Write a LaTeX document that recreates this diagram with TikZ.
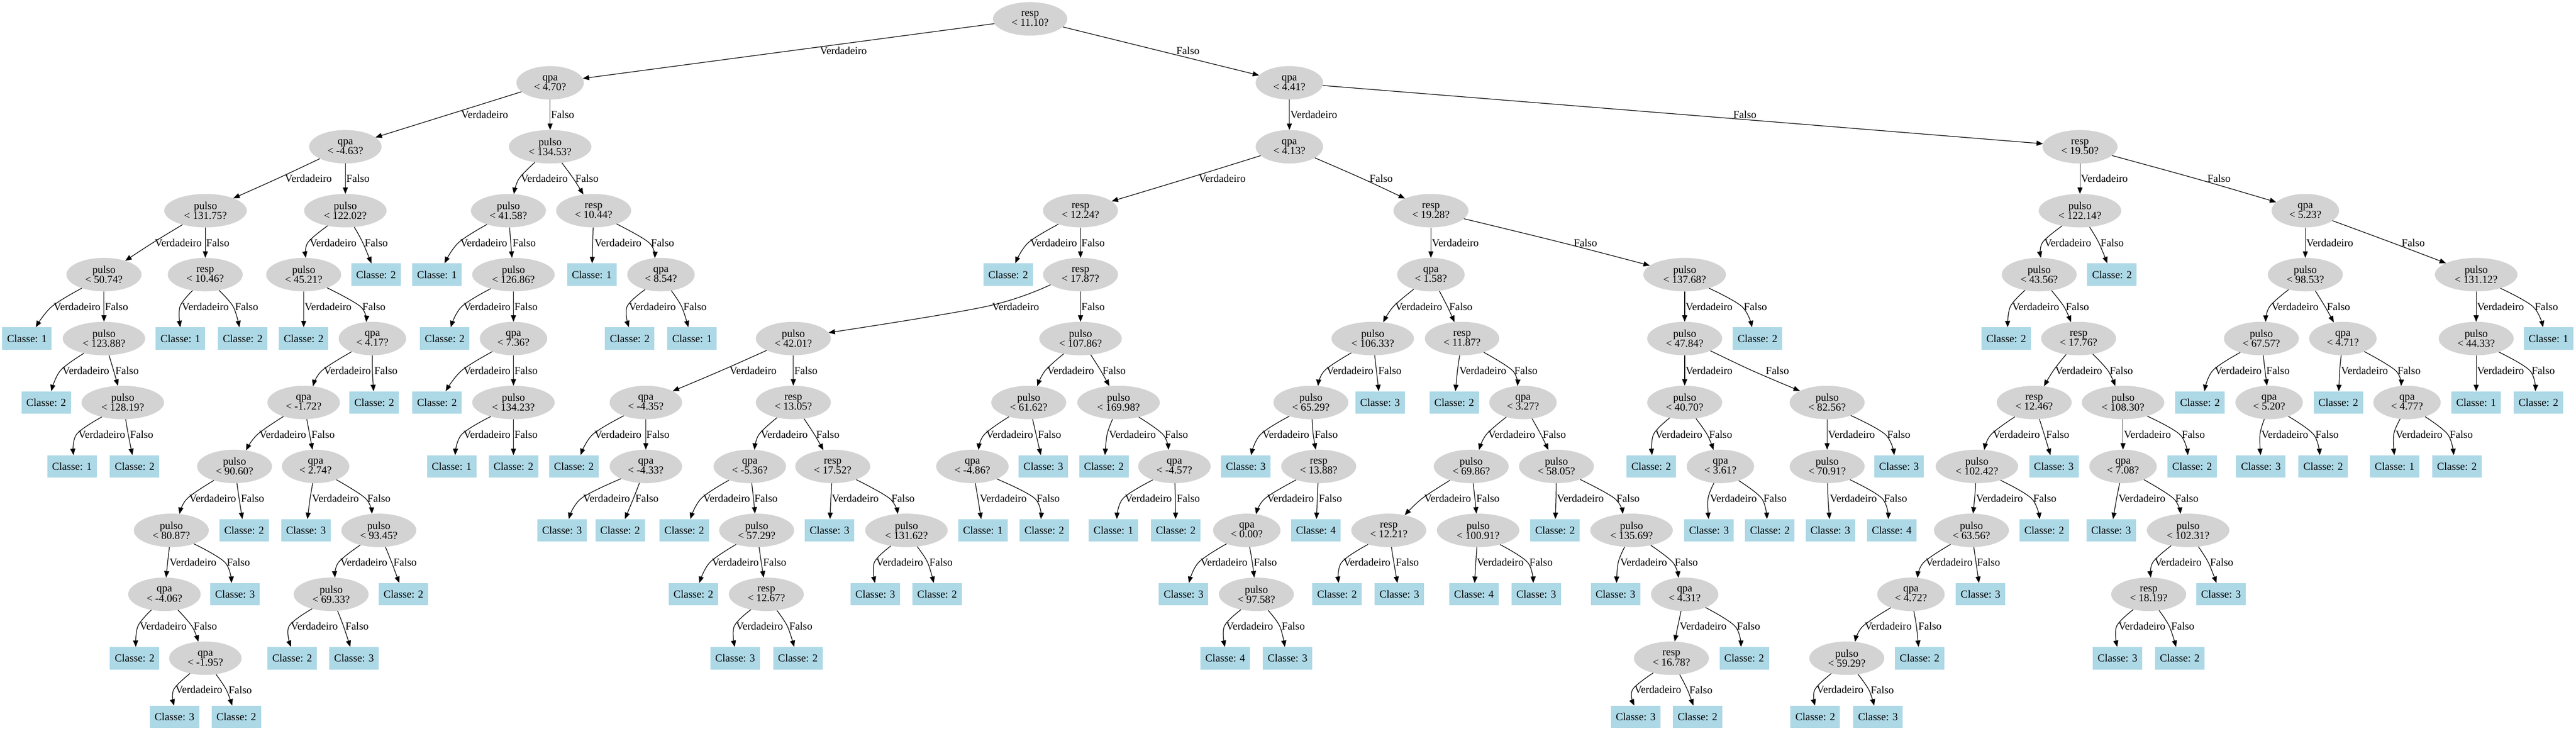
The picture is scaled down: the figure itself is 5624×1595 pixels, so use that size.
\documentclass[tikz,border=0pt]{standalone}
\usepackage{fontspec}
\setmainfont{Liberation Serif}
\usetikzlibrary{shapes.geometric,arrows.meta}
\definecolor{decgray}{HTML}{D3D3D3}
\definecolor{leafblue}{HTML}{ADD8E6}
\newcommand\dnode[4]{\node[dec] (#1) at (#2,{41.2+139.6*#3}) {#4};}
\newcommand\lnode[4]{\node[leaf] (#1) at (#2,{ifthenelse(#3==11,1565.3,41.2+139.6*#3)}) {Classe: #4};}
\newcommand\tedge[6]{%
  \pgfmathsetmacro\tey{ifthenelse(#6==10,1506,111+139.6*#6)}%
  \coordinate (P-#2) at (#5,\tey);%
  \pgfcoordinate{S-#2}{\pgfpointshapeborder{#1}{\pgfpointanchor{P-#2}{center}}}%
  \pgfcoordinate{E-#2}{\pgfpointshapeborder{#2}{\pgfpointanchor{P-#2}{center}}}%
  \draw[conn] plot[smooth,tension=0.6] coordinates {(S-#2) (P-#2) (E-#2)};%
  \node[elab] (L-#2) at (#4,\tey) {#3};%
}
\begin{document}
\begin{tikzpicture}[x=1pt,y=-1pt,
  dec/.style={ellipse, fill=decgray, inner xsep=17pt, inner ysep=0pt, minimum height=73pt, align=center, font=\fontsize{23.3}{18.3}\selectfont},
  leaf/.style={rectangle, fill=leafblue, minimum width=108pt, minimum height=49pt, inner sep=0pt, font=\fontsize{23.3}{18.3}\selectfont},
  conn/.style={draw=black, line width=1.4pt, -{Triangle[length=14pt,width=11pt]}},
  elab/.style={anchor=west, inner sep=0pt, font=\fontsize{23.3}{18.3}\selectfont}]
\fill[white] (0,0) rectangle (5624,1595);
\useasboundingbox (0,0) rectangle (5624,1595);
% ---- left subtree
\dnode{a0}{2249}{0}{resp\\< 11.10?}
\dnode{a1}{1201}{1}{qpa\\< 4.70?}
\dnode{a2}{754}{2}{qpa\\< -4.63?}
\dnode{a3}{448.7}{3}{pulso\\< 131.75?}
\dnode{a4}{227}{4}{pulso\\< 50.74?}
\lnode{a5}{59}{5}{1}
\dnode{a6}{227}{5}{pulso\\< 123.88?}
\lnode{a7}{101}{6}{2}
\dnode{a8}{268}{6}{pulso\\< 128.19?}
\lnode{a9}{157}{7}{1}
\lnode{a10}{294}{7}{2}
\dnode{a11}{448}{4}{resp\\< 10.46?}
\lnode{a12}{394}{5}{1}
\lnode{a13}{530}{5}{2}
\dnode{a14}{754}{3}{pulso\\< 122.02?}
\dnode{a15}{663}{4}{pulso\\< 45.21?}
\lnode{a16}{663}{5}{2}
\dnode{a17}{813}{5}{qpa\\< 4.17?}
\dnode{a18}{663}{6}{qpa\\< -1.72?}
\dnode{a19}{512}{7}{pulso\\< 90.60?}
\dnode{a20}{374}{8}{pulso\\< 80.87?}
\dnode{a21}{359}{9}{qpa\\< -4.06?}
\lnode{a22}{294}{10}{2}
\dnode{a23}{448.3}{10}{qpa\\< -1.95?}
\lnode{a24}{381}{11}{3}
\lnode{a25}{516}{11}{2}
\lnode{a26}{513}{9}{3}
\lnode{a27}{533}{8}{2}
\dnode{a28}{689}{7}{qpa\\< 2.74?}
\lnode{a29}{668}{8}{3}
\dnode{a30}{827}{8}{pulso\\< 93.45?}
\dnode{a31}{723}{9}{pulso\\< 69.33?}
\lnode{a32}{638}{10}{2}
\lnode{a33}{773}{10}{3}
\lnode{a34}{881}{9}{2}
\lnode{a35}{817}{6}{2}
\lnode{a36}{821}{4}{2}
\dnode{a37}{1201}{2}{pulso\\< 134.53?}
\dnode{a38}{1110}{3}{pulso\\< 41.58?}
\lnode{a39}{954}{4}{1}
\dnode{a40}{1121}{4}{pulso\\< 126.86?}
\lnode{a41}{971}{5}{2}
\dnode{a42}{1121}{5}{qpa\\< 7.36?}
\lnode{a43}{954}{6}{2}
\dnode{a44}{1121}{6}{pulso\\< 134.23?}
\lnode{a45}{986}{7}{1}
\lnode{a46}{1121}{7}{2}
\dnode{a47}{1296}{3}{resp\\< 10.44?}
\lnode{a48}{1292}{4}{1}
\dnode{a49}{1443}{4}{qpa\\< 8.54?}
\lnode{a50}{1375}{5}{2}
\lnode{a51}{1511}{5}{1}
% ---- b
\dnode{b0}{2815}{1}{qpa\\< 4.41?}
\dnode{b1}{2815}{2}{qpa\\< 4.13?}
\dnode{b2}{2359}{3}{resp\\< 12.24?}
\lnode{b3}{2201}{4}{2}
\dnode{b4}{2359}{4}{resp\\< 17.87?}
\dnode{b5}{1732}{5}{pulso\\< 42.01?}
\dnode{b6}{1410}{6}{qpa\\< -4.35?}
\lnode{b7}{1253}{7}{2}
\dnode{b8}{1410}{7}{qpa\\< -4.33?}
\lnode{b9}{1227}{8}{3}
\lnode{b10}{1354}{8}{2}
\dnode{b11}{1732}{6}{resp\\< 13.05?}
\dnode{b12}{1637}{7}{qpa\\< -5.36?}
\lnode{b13}{1494}{8}{2}
\dnode{b14}{1652}{8}{pulso\\< 57.29?}
\lnode{b15}{1514}{9}{2}
\dnode{b16}{1673}{9}{resp\\< 12.67?}
\lnode{b17}{1605}{10}{3}
\lnode{b18}{1742}{10}{2}
\dnode{b19}{1818}{7}{resp\\< 17.52?}
\lnode{b20}{1811}{8}{3}
\dnode{b21}{1979}{8}{pulso\\< 131.62?}
\lnode{b22}{1911}{9}{3}
\lnode{b23}{2046}{9}{2}
\dnode{b24}{2359}{5}{pulso\\< 107.86?}
\dnode{b25}{2246}{6}{pulso\\< 61.62?}
\dnode{b26}{2123}{7}{qpa\\< -4.86?}
\lnode{b27}{2146}{8}{1}
\lnode{b28}{2280}{8}{2}
\lnode{b29}{2278}{7}{3}
\dnode{b30}{2442}{6}{pulso\\< 169.98?}
\lnode{b31}{2410}{7}{2}
\dnode{b32}{2564}{7}{qpa\\< -4.57?}
\lnode{b33}{2431}{8}{1}
\lnode{b34}{2567}{8}{2}
% ---- c
\dnode{c0}{3124}{3}{resp\\< 19.28?}
\dnode{c1}{3124}{4}{qpa\\< 1.58?}
\dnode{c2}{2997}{5}{pulso\\< 106.33?}
\dnode{c3}{2862}{6}{pulso\\< 65.29?}
\lnode{c4}{2720}{7}{3}
\dnode{c5}{2879}{7}{resp\\< 13.88?}
\dnode{c6}{2722}{8}{qpa\\< 0.00?}
\lnode{c7}{2584}{9}{3}
\dnode{c8}{2743}{9}{pulso\\< 97.58?}
\lnode{c9}{2675}{10}{4}
\lnode{c10}{2811}{10}{3}
\lnode{c11}{2873}{8}{4}
\lnode{c12}{3013}{6}{3}
\dnode{c13}{3192}{5}{resp\\< 11.87?}
\lnode{c14}{3175}{6}{2}
\dnode{c15}{3325}{6}{qpa\\< 3.27?}
\dnode{c16}{3212}{7}{pulso\\< 69.86?}
\dnode{c17}{3032}{8}{resp\\< 12.21?}
\lnode{c18}{2919}{9}{2}
\lnode{c19}{3055}{9}{3}
\dnode{c20}{3227}{8}{pulso\\< 100.91?}
\lnode{c21}{3218}{9}{4}
\lnode{c22}{3354}{9}{3}
\dnode{c23}{3398}{7}{pulso\\< 58.05?}
\lnode{c24}{3395}{8}{2}
\dnode{c25}{3562}{8}{pulso\\< 135.69?}
\lnode{c26}{3527}{9}{3}
\dnode{c27}{3678}{9}{qpa\\< 4.31?}
\dnode{c28}{3649}{10}{resp\\< 16.78?}
\lnode{c29}{3571}{11}{3}
\lnode{c30}{3706}{11}{2}
\lnode{c31}{3808}{10}{2}
\dnode{c32}{3678}{4}{pulso\\< 137.68?}
\dnode{c33}{3678}{5}{pulso\\< 47.84?}
\dnode{c34}{3678}{6}{pulso\\< 40.70?}
\lnode{c35}{3605}{7}{2}
\dnode{c36}{3756}{7}{qpa\\< 3.61?}
\lnode{c37}{3731}{8}{3}
\lnode{c38}{3864}{8}{2}
\dnode{c39}{3989}{6}{pulso\\< 82.56?}
\dnode{c40}{3989}{7}{pulso\\< 70.91?}
\lnode{c41}{3996}{8}{3}
\lnode{c42}{4130}{8}{4}
\lnode{c43}{4146}{7}{3}
\lnode{c44}{3837}{5}{2}
% ---- d
\dnode{d0}{4541}{2}{resp\\< 19.50?}
\dnode{d1}{4541}{3}{pulso\\< 122.14?}
\dnode{d2}{4452}{4}{pulso\\< 43.56?}
\lnode{d3}{4380}{5}{2}
\dnode{d4}{4538}{5}{resp\\< 17.76?}
\dnode{d5}{4441}{6}{resp\\< 12.46?}
\dnode{d6}{4316}{7}{pulso\\< 102.42?}
\dnode{d7}{4304}{8}{pulso\\< 63.56?}
\dnode{d8}{4172}{9}{qpa\\< 4.72?}
\dnode{d9}{4032}{10}{pulso\\< 59.29?}
\lnode{d10}{3963}{11}{2}
\lnode{d11}{4100}{11}{3}
\lnode{d12}{4191}{10}{2}
\lnode{d13}{4324}{9}{3}
\lnode{d14}{4463}{8}{2}
\lnode{d15}{4484}{7}{3}
\dnode{d16}{4635}{6}{pulso\\< 108.30?}
\dnode{d17}{4635}{7}{qpa\\< 7.08?}
\lnode{d18}{4609}{8}{3}
\dnode{d19}{4777}{8}{pulso\\< 102.31?}
\dnode{d20}{4691}{9}{resp\\< 18.19?}
\lnode{d21}{4623}{10}{3}
\lnode{d22}{4759}{10}{2}
\lnode{d23}{4849}{9}{3}
\lnode{d24}{4786}{7}{2}
\lnode{d25}{4611}{4}{2}
\dnode{d26}{5033}{3}{qpa\\< 5.23?}
\dnode{d27}{5033}{4}{pulso\\< 98.53?}
\dnode{d28}{4937}{5}{pulso\\< 67.57?}
\lnode{d29}{4803}{6}{2}
\dnode{d30}{4954}{6}{qpa\\< 5.20?}
\lnode{d31}{4936}{7}{3}
\lnode{d32}{5072}{7}{2}
\dnode{d33}{5115}{5}{qpa\\< 4.71?}
\lnode{d34}{5105}{6}{2}
\dnode{d35}{5255}{6}{qpa\\< 4.77?}
\lnode{d36}{5228}{7}{1}
\lnode{d37}{5364}{7}{2}
\dnode{d38}{5406}{4}{pulso\\< 131.12?}
\dnode{d39}{5406}{5}{pulso\\< 44.33?}
\lnode{d40}{5406}{6}{1}
\lnode{d41}{5542}{6}{2}
\lnode{d42}{5564}{5}{1}
% ---- edges
\tedge{a0}{a1}{Verdadeiro}{1790}{1725}{0}
\tedge{a0}{b0}{Falso}{2568}{2532}{0}
\tedge{a1}{a2}{Verdadeiro}{1007}{978}{1}
\tedge{a1}{a37}{Falso}{1203}{1201}{1}
\tedge{a2}{a3}{Verdadeiro}{622}{605}{2}
\tedge{a2}{a14}{Falso}{756}{754}{2}
\tedge{a37}{a38}{Verdadeiro}{1137}{1133}{2}
\tedge{a37}{a47}{Falso}{1256}{1252}{2}
\tedge{a3}{a4}{Verdadeiro}{338}{334}{3}
\tedge{a3}{a11}{Falso}{450}{448.5}{3}
\tedge{a14}{a15}{Verdadeiro}{676}{672}{3}
\tedge{a14}{a36}{Falso}{796}{792}{3}
\tedge{a38}{a39}{Verdadeiro}{1005}{1001}{3}
\tedge{a38}{a40}{Falso}{1119}{1115}{3}
\tedge{a47}{a48}{Verdadeiro}{1298}{1294}{3}
\tedge{a47}{a49}{Falso}{1421}{1417}{3}
\tedge{a4}{a5}{Verdadeiro}{117}{113}{4}
\tedge{a4}{a6}{Falso}{229}{227}{4}
\tedge{a11}{a12}{Verdadeiro}{397}{393}{4}
\tedge{a11}{a13}{Falso}{513}{509}{4}
\tedge{a15}{a16}{Verdadeiro}{665}{663}{4}
\tedge{a15}{a17}{Falso}{791}{787}{4}
\tedge{a40}{a41}{Verdadeiro}{1012}{1008}{4}
\tedge{a40}{a42}{Falso}{1123}{1121}{4}
\tedge{a49}{a50}{Verdadeiro}{1373}{1369}{4}
\tedge{a49}{a51}{Falso}{1492}{1488}{4}
\tedge{a6}{a7}{Verdadeiro}{136}{132}{5}
\tedge{a6}{a8}{Falso}{252}{248}{5}
\tedge{a17}{a18}{Verdadeiro}{707}{703}{5}
\tedge{a17}{a35}{Falso}{817}{813}{5}
\tedge{a42}{a43}{Verdadeiro}{1012}{1008}{5}
\tedge{a42}{a44}{Falso}{1123}{1121}{5}
\tedge{a8}{a9}{Verdadeiro}{171}{167}{6}
\tedge{a8}{a10}{Falso}{284}{280}{6}
\tedge{a18}{a19}{Verdadeiro}{566}{562}{6}
\tedge{a18}{a28}{Falso}{680}{676}{6}
\tedge{a44}{a45}{Verdadeiro}{1012}{1008}{6}
\tedge{a44}{a46}{Falso}{1123}{1121}{6}
\tedge{a19}{a20}{Verdadeiro}{413}{409}{7}
\tedge{a19}{a27}{Falso}{526}{522}{7}
\tedge{a28}{a29}{Verdadeiro}{681}{677}{7}
\tedge{a28}{a30}{Falso}{802}{798}{7}
\tedge{a20}{a21}{Verdadeiro}{370}{366}{8}
\tedge{a20}{a26}{Falso}{495}{491}{8}
\tedge{a30}{a31}{Verdadeiro}{743}{739}{8}
\tedge{a30}{a34}{Falso}{859}{855}{8}
\tedge{a21}{a22}{Verdadeiro}{305}{301}{9}
\tedge{a21}{a23}{Falso}{423}{419}{9}
\tedge{a31}{a32}{Verdadeiro}{635}{631}{9}
\tedge{a31}{a33}{Falso}{754}{750}{9}
\tedge{a23}{a24}{Verdadeiro}{383}{379}{10}
\tedge{a23}{a25}{Falso}{499}{494}{10}
\tedge{b0}{b1}{Verdadeiro}{2817}{2815}{1}
\tedge{b0}{d0}{Falso}{3784}{3680}{1}
\tedge{b1}{b2}{Verdadeiro}{2617}{2590}{2}
\tedge{b1}{c0}{Falso}{2990}{2975}{2}
\tedge{b2}{b3}{Verdadeiro}{2249}{2245}{3}
\tedge{b2}{b4}{Falso}{2361}{2359}{3}
\tedge{b4}{b5}{Verdadeiro}{2166}{2152}{4}
\tedge{b4}{b24}{Falso}{2361}{2359}{4}
\tedge{b5}{b6}{Verdadeiro}{1593}{1575}{5}
\tedge{b5}{b11}{Falso}{1734}{1732}{5}
\tedge{b24}{b25}{Verdadeiro}{2286}{2282}{5}
\tedge{b24}{b30}{Falso}{2407}{2403}{5}
\tedge{b6}{b7}{Verdadeiro}{1298}{1294}{6}
\tedge{b6}{b8}{Falso}{1411}{1410}{6}
\tedge{b11}{b12}{Verdadeiro}{1661}{1657}{6}
\tedge{b11}{b19}{Falso}{1782}{1778}{6}
\tedge{b25}{b26}{Verdadeiro}{2153}{2149}{6}
\tedge{b25}{b29}{Falso}{2266}{2262}{6}
\tedge{b30}{b31}{Verdadeiro}{2421}{2417}{6}
\tedge{b30}{b32}{Falso}{2543}{2539}{6}
\tedge{b8}{b9}{Verdadeiro}{1273}{1269}{7}
\tedge{b8}{b10}{Falso}{1387}{1383}{7}
\tedge{b12}{b13}{Verdadeiro}{1535}{1531}{7}
\tedge{b12}{b14}{Falso}{1647}{1645}{7}
\tedge{b19}{b20}{Verdadeiro}{1816}{1814}{7}
\tedge{b19}{b21}{Falso}{1946}{1942}{7}
\tedge{b26}{b27}{Verdadeiro}{2139}{2135}{7}
\tedge{b26}{b28}{Falso}{2263}{2259}{7}
\tedge{b32}{b33}{Verdadeiro}{2456}{2452}{7}
\tedge{b32}{b34}{Falso}{2569}{2566}{7}
\tedge{b14}{b15}{Verdadeiro}{1554}{1550}{8}
\tedge{b14}{b16}{Falso}{1666}{1662}{8}
\tedge{b21}{b22}{Verdadeiro}{1913}{1909}{8}
\tedge{b21}{b23}{Falso}{2029}{2025}{8}
\tedge{b16}{b17}{Verdadeiro}{1607}{1603}{9}
\tedge{b16}{b18}{Falso}{1723}{1719}{9}
\tedge{c0}{c1}{Verdadeiro}{3126}{3124}{3}
\tedge{c0}{c32}{Falso}{3436}{3410}{3}
\tedge{c1}{c2}{Verdadeiro}{3046}{3042}{4}
\tedge{c1}{c13}{Falso}{3164}{3160}{4}
\tedge{c32}{c33}{Verdadeiro}{3680}{3678}{4}
\tedge{c32}{c44}{Falso}{3807}{3803}{4}
\tedge{c2}{c3}{Verdadeiro}{2896}{2892}{5}
\tedge{c2}{c12}{Falso}{3009}{3005}{5}
\tedge{c13}{c14}{Verdadeiro}{3186}{3182}{5}
\tedge{c13}{c15}{Falso}{3306}{3302}{5}
\tedge{c33}{c34}{Verdadeiro}{3680}{3678}{5}
\tedge{c33}{c39}{Falso}{3855}{3825}{5}
\tedge{c3}{c4}{Verdadeiro}{2756}{2752}{6}
\tedge{c3}{c5}{Falso}{2870}{2867}{6}
\tedge{c15}{c16}{Verdadeiro}{3249}{3245}{6}
\tedge{c15}{c23}{Falso}{3368}{3364}{6}
\tedge{c34}{c35}{Verdadeiro}{3614}{3610}{6}
\tedge{c34}{c36}{Falso}{3731}{3727}{6}
\tedge{c39}{c40}{Verdadeiro}{3991}{3989}{6}
\tedge{c39}{c43}{Falso}{4120}{4116}{6}
\tedge{c5}{c6}{Verdadeiro}{2766}{2762}{7}
\tedge{c5}{c11}{Falso}{2879}{2876}{7}
\tedge{c16}{c17}{Verdadeiro}{3109}{3105}{7}
\tedge{c16}{c20}{Falso}{3223}{3220}{7}
\tedge{c23}{c24}{Verdadeiro}{3399}{3397}{7}
\tedge{c23}{c25}{Falso}{3529}{3525}{7}
\tedge{c36}{c37}{Verdadeiro}{3733}{3729}{7}
\tedge{c36}{c38}{Falso}{3850}{3846}{7}
\tedge{c40}{c41}{Verdadeiro}{3995}{3991}{7}
\tedge{c40}{c42}{Falso}{4113}{4109}{7}
\tedge{c6}{c7}{Verdadeiro}{2621}{2617}{8}
\tedge{c6}{c8}{Falso}{2737}{2734}{8}
\tedge{c17}{c18}{Verdadeiro}{2933}{2929}{8}
\tedge{c17}{c19}{Falso}{3047}{3043}{8}
\tedge{c20}{c21}{Verdadeiro}{3224}{3222}{8}
\tedge{c20}{c22}{Falso}{3339}{3335}{8}
\tedge{c25}{c26}{Verdadeiro}{3537}{3533}{8}
\tedge{c25}{c27}{Falso}{3656}{3652}{8}
\tedge{c8}{c9}{Verdadeiro}{2677}{2673}{9}
\tedge{c8}{c10}{Falso}{2798}{2794}{9}
\tedge{c27}{c28}{Verdadeiro}{3667}{3663}{9}
\tedge{c27}{c31}{Falso}{3792}{3788}{9}
\tedge{c28}{c29}{Verdadeiro}{3568}{3564}{10}
\tedge{c28}{c30}{Falso}{3688}{3684}{10}
\tedge{d0}{d1}{Verdadeiro}{4543}{4541}{2}
\tedge{d0}{d26}{Falso}{4819}{4795}{2}
\tedge{d1}{d2}{Verdadeiro}{4463}{4459}{3}
\tedge{d1}{d25}{Falso}{4586}{4582}{3}
\tedge{d26}{d27}{Verdadeiro}{5035}{5033}{3}
\tedge{d26}{d38}{Falso}{5243}{5222}{3}
\tedge{d2}{d3}{Verdadeiro}{4393}{4389}{4}
\tedge{d2}{d4}{Falso}{4510}{4506}{4}
\tedge{d27}{d28}{Verdadeiro}{4959}{4955}{4}
\tedge{d27}{d33}{Falso}{5080}{5076}{4}
\tedge{d38}{d39}{Verdadeiro}{5408}{5406}{4}
\tedge{d38}{d42}{Falso}{5534}{5530}{4}
\tedge{d4}{d5}{Verdadeiro}{4487}{4483}{5}
\tedge{d4}{d16}{Falso}{4606}{4602}{5}
\tedge{d28}{d29}{Verdadeiro}{4835}{4831}{5}
\tedge{d28}{d30}{Falso}{4948}{4945}{5}
\tedge{d33}{d34}{Verdadeiro}{5111}{5108}{5}
\tedge{d33}{d35}{Falso}{5234}{5230}{5}
\tedge{d39}{d40}{Verdadeiro}{5408}{5406}{5}
\tedge{d39}{d41}{Falso}{5527}{5523}{5}
\tedge{d5}{d6}{Verdadeiro}{4351}{4347}{6}
\tedge{d5}{d15}{Falso}{4467}{4463}{6}
\tedge{d16}{d17}{Verdadeiro}{4637}{4635}{6}
\tedge{d16}{d24}{Falso}{4763}{4759}{6}
\tedge{d30}{d31}{Verdadeiro}{4937}{4934}{6}
\tedge{d30}{d32}{Falso}{5055}{5051}{6}
\tedge{d35}{d36}{Verdadeiro}{5230}{5226}{6}
\tedge{d35}{d37}{Falso}{5348}{5344}{6}
\tedge{d6}{d7}{Verdadeiro}{4314}{4311}{7}
\tedge{d6}{d14}{Falso}{4439}{4435}{7}
\tedge{d17}{d18}{Verdadeiro}{4625}{4621}{7}
\tedge{d17}{d19}{Falso}{4749}{4745}{7}
\tedge{d7}{d8}{Verdadeiro}{4204}{4200}{8}
\tedge{d7}{d13}{Falso}{4316}{4314}{8}
\tedge{d19}{d20}{Verdadeiro}{4704}{4700}{8}
\tedge{d19}{d23}{Falso}{4825}{4821}{8}
\tedge{d8}{d9}{Verdadeiro}{4071}{4067}{9}
\tedge{d8}{d12}{Falso}{4188}{4184}{9}
\tedge{d20}{d21}{Verdadeiro}{4625}{4621}{9}
\tedge{d20}{d22}{Falso}{4740}{4736}{9}
\tedge{d9}{d10}{Verdadeiro}{3966}{3962}{10}
\tedge{d9}{d11}{Falso}{4084}{4080}{10}
\end{tikzpicture}
\end{document}
